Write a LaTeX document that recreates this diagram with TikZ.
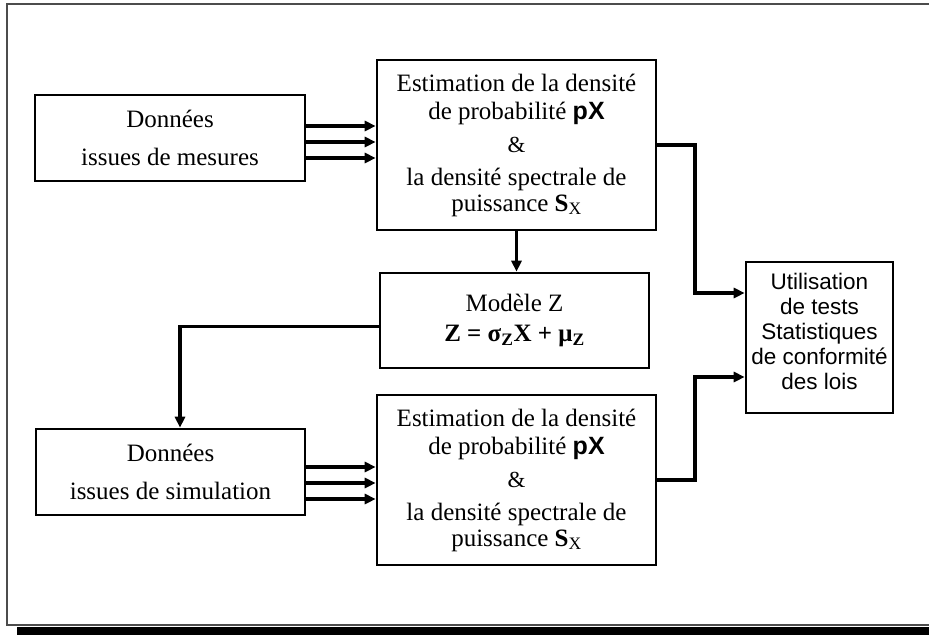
\documentclass[tikz,border=0pt]{standalone}
\usepackage{fontspec}
\setmainfont{Liberation Serif}
\setsansfont{Liberation Sans}
\usetikzlibrary{arrows.meta}
\begin{document}
\begin{tikzpicture}[x=1pt,y=-1pt,
  box/.style={draw=black,line width=2.6pt,inner sep=0pt,align=center,font=\fontsize{25}{28.5}\selectfont},
  arr/.style={line width=3.2pt,-{Triangle[length=11pt,width=10pt]}}]
\useasboundingbox (0,0) rectangle (929,635);
\fill[white] (0,0) rectangle (929,635);
% outer frame
\draw[gray!60!black,line width=1.5pt] (932,4) -- (7,4) -- (7,625) -- (932,625);
\fill[black] (17,627) rectangle (929,635);
% nodes
\node[box,minimum width=270pt,minimum height=86pt] (dm) at (170,138) {Données\\[9pt]issues de mesures};
\node[box,minimum width=279pt,minimum height=170pt] (est1) at (516.5,145)
  {Estimation de la densité\\ de probabilité \textsf{\textbf{pX}}\\[4pt]{\fontsize{23}{24}\selectfont\&}\\[5pt]la densité spectrale de\\[-3pt] puissance \textbf{S}\textsubscript{X}};
\node[box,minimum width=269pt,minimum height=95pt] (mod) at (514.5,320.5)
  {Modèle Z\\[2pt]\textbf{Z = σ\textsubscript{Z}X + μ\textsubscript{Z}}};
\node[box,minimum width=269pt,minimum height=86pt] (ds) at (170.5,472) {Données\\[9pt]issues de simulation};
\node[box,minimum width=279pt,minimum height=170pt] (est2) at (516.5,480)
  {Estimation de la densité\\ de probabilité \textsf{\textbf{pX}}\\[4pt]{\fontsize{23}{24}\selectfont\&}\\[5pt]la densité spectrale de\\[-3pt] puissance \textbf{S}\textsubscript{X}};
\node[box,minimum width=147pt,minimum height=151pt] (res) at (819.5,337.5) {};
\node[align=center,inner sep=0pt,font=\sffamily\fontsize{22.5}{25.2}\selectfont] (restxt) at ([yshift=6pt]res.center)
  {Utilisation\\de tests\\Statistiques\\de conformité\\des lois};
% connectors
\foreach \s in {12,-4,-20}
  \draw[arr] ([yshift=\s pt]dm.east) -- ([yshift=\s pt]dm.east -| est1.west);
\foreach \s in {5,-11,-27}
  \draw[arr] ([yshift=\s pt]ds.east) -- ([yshift=\s pt]ds.east -| est2.west);
\draw[arr] (est1.south) -- (est1.south |- mod.north);
\draw[arr] ([yshift=-6pt]mod.west) -| ([xshift=9.5pt]ds.north);
\coordinate (k1) at (695,0);
\draw[arr] (est1.east) -| (k1 |- 0,293) -- ([yshift=44.5pt]res.west);
\draw[arr] (est2.east) -| (k1 |- 0,377) -- ([yshift=-39.5pt]res.west);
\end{tikzpicture}
\end{document}
